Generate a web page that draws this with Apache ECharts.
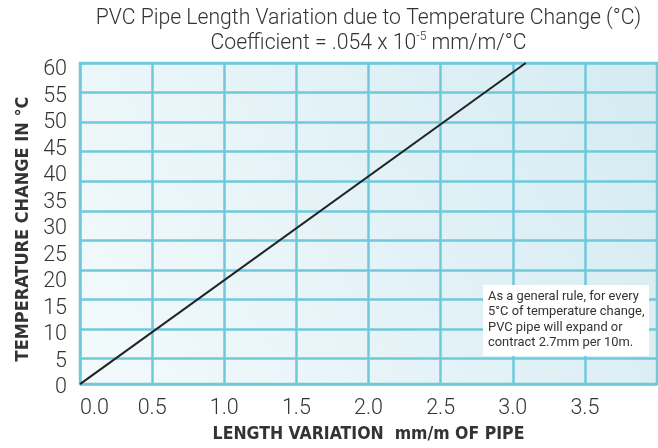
<!DOCTYPE html>
<html><head><meta charset="utf-8">
<script src="https://cdn.jsdelivr.net/npm/echarts@6/dist/echarts.min.js"></script>
<style>html,body{margin:0;padding:0;background:#fff}#c{width:658px;height:448px}</style>
</head><body><div id="c"></div>
<script>
// Data
const lengthVariation = [0, 3.09];     // mm/m of pipe
const temperatureChange = [0, 60];     // °C
const xTickLabels = ['0.0', '0.5', '1.0', '1.5', '2.0', '2.5', '3.0', '3.5'];
const yTickLabels = ['0', '5', '10', '15', '20', '25', '30', '35', '40', '45', '50', '55', '60'];
const noteLines = [
  'As a general rule, for every',
  '5°C of temperature change,',
  'PVC pipe will expand or',
  'contract 2.7mm per 10m.'
];

const gridColor = '#70c9db';
const textColor = '#333333';
const baseFont = 'Roboto, "Liberation Sans", Arial, sans-serif';
const boldFont = '"Liberation Sans Narrow", "DejaVu Sans Condensed", "Liberation Sans", sans-serif';
const lightWeight = 300;

const chart = echarts.init(document.getElementById('c'));
const linePoints = lengthVariation.map((x, i) => [x, temperatureChange[i]]);

chart.setOption({
  animation: false,
  grid: [
    { left: 80, right: 1, top: 63, bottom: 55, show: true,
      backgroundColor: new echarts.graphic.LinearGradient(0, 1, 1, 0, [
        { offset: 0, color: '#f3fafc' }, { offset: 1, color: '#d4ebf2' }]),
      borderColor: gridColor, borderWidth: 2.5 },
    { left: 80, right: 1, top: 70, bottom: 60 }
  ],
  xAxis: [
    { type: 'value', gridIndex: 0, min: 0, max: 4, interval: 0.5,
      axisLine: { show: false }, axisTick: { show: false },
      splitLine: { show: true, lineStyle: { color: gridColor, width: 2.5 } },
      axisLabel: { color: textColor, fontSize: 21.5, fontWeight: lightWeight, fontFamily: baseFont, margin: 14,
        alignMinLabel: 'left', showMaxLabel: false,
        formatter: (v) => xTickLabels[Math.round(v / 0.5)] || '' },
      name: 'LENGTH VARIATION  mm/m OF PIPE', nameLocation: 'middle', nameGap: 40,
      nameTextStyle: { color: textColor, fontSize: 17.5, fontWeight: 'bold', fontFamily: boldFont } },
    { type: 'value', gridIndex: 1, min: 0, max: 4, show: false }
  ],
  yAxis: [
    { type: 'value', gridIndex: 0, min: 0, max: 60, show: false },
    { type: 'value', gridIndex: 0, min: 0, max: 10.86, interval: 1, inverse: true,
      axisLine: { show: false }, axisTick: { show: false }, axisLabel: { show: false },
      splitLine: { show: true, lineStyle: { color: gridColor, width: 2.5 } } },
    { type: 'value', gridIndex: 1, min: 0, max: 60, interval: 5,
      axisLine: { show: false }, axisTick: { show: false }, splitLine: { show: false },
      axisLabel: { color: textColor, fontSize: 21.5, fontWeight: lightWeight, fontFamily: baseFont, margin: 13,
        formatter: (v) => yTickLabels[Math.round(v / 5)] },
      name: 'TEMPERATURE CHANGE IN °C', nameLocation: 'middle', nameGap: 48,
      nameTextStyle: { color: textColor, fontSize: 18, fontWeight: 'bold', fontFamily: boldFont } }
  ],
  series: [{
    type: 'line', xAxisIndex: 0, yAxisIndex: 0, data: linePoints,
    showSymbol: false, lineStyle: { color: '#222222', width: 2 }, z: 5
  }],
  graphic: [
    { type: 'text', x: 368.5, y: 6, z: 100,
      style: { text: '{a|PVC Pipe Length Variation due to Temperature Change (°C)}\n{a|Coefficient = .054 x 10}{s|-5}{a| mm/m/°C}',
        align: 'center', verticalAlign: 'top',
        rich: {
          a: { fontSize: 21.2, fontWeight: lightWeight, lineHeight: 25, fill: textColor, fontFamily: baseFont },
          s: { fontSize: 12, fontWeight: lightWeight, lineHeight: 14, verticalAlign: 'top', fill: textColor, fontFamily: baseFont }
        } } },
    { type: 'rect', z: 100, shape: { x: 483, y: 285, width: 166, height: 71 }, style: { fill: '#ffffff' } },
    { type: 'text', z: 101, x: 488, y: 289,
      style: { text: noteLines.join('\n'), fontSize: 12.9, lineHeight: 15.5, fill: textColor,
        fontFamily: baseFont, verticalAlign: 'top' } }
  ]
});
</script></body></html>
